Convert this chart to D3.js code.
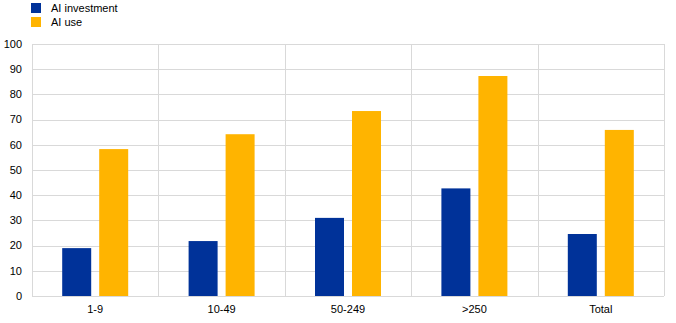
<!DOCTYPE html>
<html>
<head>
<meta charset="utf-8">
<script src="https://cdn.jsdelivr.net/npm/d3@7"></script>
<style>
  body { margin: 0; background: #fff; }
  text { font-family: "Liberation Sans", Arial, sans-serif; }
</style>
</head>
<body>
<div id="chart"></div>
<script>
const categories = ["1-9", "10-49", "50-249", ">250", "Total"]
  , seriesNames = ["AI investment", "AI use"]
  , aiInvestment = [19, 21.8, 31, 42.7, 24.6]
  , aiUse = [58.3, 64.2, 73.4, 87.3, 65.9]
  , yTicks = [0, 10, 20, 30, 40, 50, 60, 70, 80, 90, 100];

const width = 676
  , height = 323
  , margin = {top: 44, right: 12, bottom: 27, left: 32}
  , colors = ["#003299", "#ffb400"]
  , gridColor = "#d9d9d9"
  , textColor = "#000";

const svg = d3.select("#chart")
  .append("svg")
  .attr("width", width)
  .attr("height", height);

const x = d3.scaleBand()
  .domain(categories)
  .range([margin.left, width - margin.right]);

const y = d3.scaleLinear()
  .domain([0, 100])
  .range([height - margin.bottom, margin.top]);

const barW = 29, barGap = 8;

// horizontal grid lines
svg.append("g")
  .selectAll("line")
  .data(yTicks)
  .enter().append("line")
  .attr("x1", margin.left)
  .attr("x2", width - margin.right)
  .attr("y1", d => Math.round(y(d)) + 0.5)
  .attr("y2", d => Math.round(y(d)) + 0.5)
  .style("stroke", gridColor)
  .style("stroke-width", 1);

// vertical category dividers
const dividers = categories.map(c => x(c)).concat([x.range()[1]]);
svg.append("g")
  .selectAll("line")
  .data(dividers)
  .enter().append("line")
  .attr("x1", d => Math.round(d) + 0.5)
  .attr("x2", d => Math.round(d) + 0.5)
  .attr("y1", margin.top)
  .attr("y2", height - margin.bottom)
  .style("stroke", gridColor)
  .style("stroke-width", 1);

// bars
const series = [aiInvestment, aiUse];
series.forEach((vals, si) => {
  svg.append("g")
    .selectAll("rect")
    .data(vals)
    .enter().append("rect")
    .attr("x", (d, i) => {
      const c = x(categories[i]) + x.bandwidth() / 2;
      return si == 0 ? c - barGap / 2 - barW : c + barGap / 2;
    })
    .attr("y", d => y(d))
    .attr("width", barW)
    .attr("height", d => y(0) - y(d))
    .style("fill", colors[si]);
});

// y axis labels
svg.append("g")
  .selectAll("text")
  .data(yTicks)
  .enter().append("text")
  .attr("x", 22)
  .attr("y", d => y(d))
  .attr("dy", "0.35em")
  .attr("text-anchor", "end")
  .style("font-size", "11px")
  .style("fill", textColor)
  .text(d => d);

// x axis labels
svg.append("g")
  .selectAll("text")
  .data(categories)
  .enter().append("text")
  .attr("x", d => x(d) + x.bandwidth() / 2)
  .attr("y", 313)
  .attr("text-anchor", "middle")
  .style("font-size", "11px")
  .style("fill", textColor)
  .text(d => d);

// legend
const legend = svg.append("g");
seriesNames.forEach((name, i) => {
  legend.append("rect")
    .attr("x", 31)
    .attr("y", 3 + i * 14)
    .attr("width", 10)
    .attr("height", 10)
    .style("fill", colors[i]);
  legend.append("text")
    .attr("x", 51)
    .attr("y", 8 + i * 14)
    .attr("dy", "0.35em")
    .style("font-size", "11px")
    .style("fill", textColor)
    .text(name);
});
</script>
</body>
</html>
